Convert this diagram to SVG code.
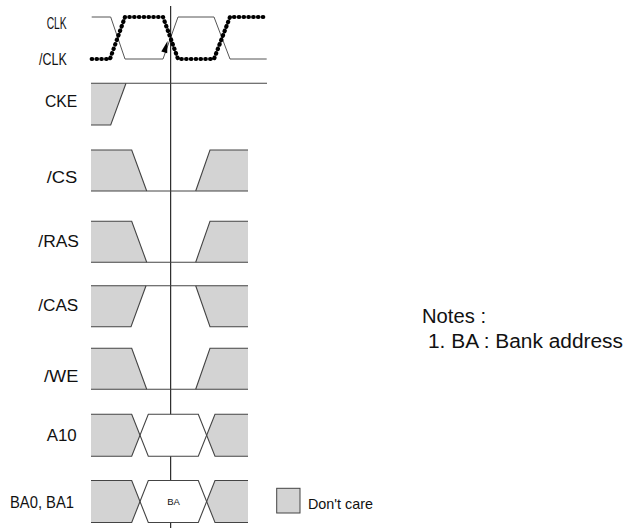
<svg xmlns="http://www.w3.org/2000/svg" width="625" height="528" viewBox="0 0 625 528">
<style>
.lbl{font-family:"Liberation Sans",Arial,sans-serif;font-size:16px;fill:#111;text-anchor:end}
.note{font-family:"Liberation Sans",Arial,sans-serif;font-size:20px;fill:#111}
.gray{fill:#d3d3d3;stroke:none}
.white{fill:#fff;stroke:none}
.edge{fill:none;stroke:#444;stroke-width:1.1}
.thin{fill:none;stroke:#555;stroke-width:1}
.dots{fill:none;stroke:#000;stroke-width:4.2;stroke-dasharray:0.5 4.3;stroke-linecap:round;stroke-linejoin:round}
</style>
<defs>
<g id="lowPulse">
<polygon class="gray" points="91,0 131.7,0 146.7,41 91,41"/>
<polygon class="gray" points="195.7,41 210,0 248,0 248,41"/>
<polyline class="edge" points="91,0 131.7,0 146.7,41"/>
<polyline class="edge" points="195.7,41 210,0 248,0"/>
<line class="edge" x1="91" y1="41" x2="248" y2="41"/>
</g>
<g id="bus">
<polygon class="gray" points="91,0 131.7,0 140,21 131.7,42 91,42"/>
<polygon class="white" points="140,21 148.3,0 198.3,0 206.7,21 198.3,42 148.3,42"/>
<polygon class="gray" points="206.7,21 215,0 248,0 248,42 215,42"/>
<polyline class="edge" points="91,0 131.7,0 148.3,42 198.3,42 215,0 248,0"/>
<polyline class="edge" points="91,42 131.7,42 148.3,0 198.3,0 215,42 248,42"/>
</g>
</defs>

<g id="connectors">
<line x1="170.7" y1="6" x2="170.7" y2="528" stroke="#000" stroke-width="1"/>
</g>

<g id="clk">
<text class="lbl" x="66.7" y="29.3" font-size="17" textLength="20" lengthAdjust="spacingAndGlyphs">CLK</text>
<polyline class="thin" points="91.7,17 110.7,17 125,59 163,59 178,17 214,17 230,59 266.7,59"/>
<polygon points="167.5,41 161.3,51.5 167.2,53.3" fill="#000"/>
</g>
<g id="clk_n">
<text class="lbl" x="66.7" y="65" font-size="17" textLength="27.7" lengthAdjust="spacingAndGlyphs">/CLK</text>
<polyline class="dots" points="91.7,59 110,59 125,17 163,17 178,59 214,59 230,17 266.7,17"/>
</g>

<g id="cke">
<text class="lbl" x="77.3" y="106.7" textLength="32.3" lengthAdjust="spacingAndGlyphs">CKE</text>
<polygon class="gray" points="91,83.3 126,83.3 110.7,125 91,125"/>
<line class="edge" x1="91" y1="83.3" x2="267" y2="83.3"/>
<polyline class="edge" points="126,83.3 110.7,125 91,125"/>
</g>

<g id="cs">
<text class="lbl" x="77.3" y="182.7" textLength="30.6" lengthAdjust="spacingAndGlyphs">/CS</text>
<use href="#lowPulse" transform="translate(0,150)"/>
</g>

<g id="ras">
<text class="lbl" x="79" y="247.3" textLength="40.7" lengthAdjust="spacingAndGlyphs">/RAS</text>
<use href="#lowPulse" transform="translate(0,221.2)"/>
</g>

<g id="cas">
<text class="lbl" x="78.3" y="310.7" textLength="40" lengthAdjust="spacingAndGlyphs">/CAS</text>
<polygon class="gray" points="91,285.7 146,285.7 131,326.7 91,326.7"/>
<polygon class="gray" points="195.7,285.7 210,326.7 248,326.7 248,285.7"/>
<line class="edge" x1="91" y1="285.7" x2="248" y2="285.7"/>
<polyline class="edge" points="146,285.7 131,326.7 91,326.7"/>
<polyline class="edge" points="195.7,285.7 210,326.7 248,326.7"/>
</g>

<g id="we">
<text class="lbl" x="78.3" y="381.7" textLength="34.3" lengthAdjust="spacingAndGlyphs">/WE</text>
<use href="#lowPulse" transform="translate(0,348.2)"/>
</g>

<g id="a10">
<text class="lbl" x="76.7" y="440.7" textLength="30" lengthAdjust="spacingAndGlyphs">A10</text>
<use href="#bus" transform="translate(0,414.2)"/>
</g>

<g id="ba">
<text class="lbl" x="74" y="507.5" textLength="64" lengthAdjust="spacingAndGlyphs">BA0, BA1</text>
<use href="#bus" transform="translate(0,480.5)"/>
<text x="173.5" y="504.5" font-family="Liberation Sans, Arial, sans-serif" font-size="9.5" fill="#111" text-anchor="middle">BA</text>
</g>

<g id="legend">
<rect x="276.7" y="488.3" width="23.3" height="24.7" fill="#d3d3d3" stroke="#444" stroke-width="1"/>
<text x="308" y="509" font-family="Liberation Sans, Arial, sans-serif" font-size="15" fill="#111" textLength="65" lengthAdjust="spacingAndGlyphs">Don't care</text>
</g>

<g id="notes">
<text class="note" x="422" y="322.5" textLength="64" lengthAdjust="spacingAndGlyphs">Notes :</text>
<text class="note" x="428" y="348.3" textLength="195" lengthAdjust="spacingAndGlyphs">1. BA : Bank address</text>
</g>
</svg>
